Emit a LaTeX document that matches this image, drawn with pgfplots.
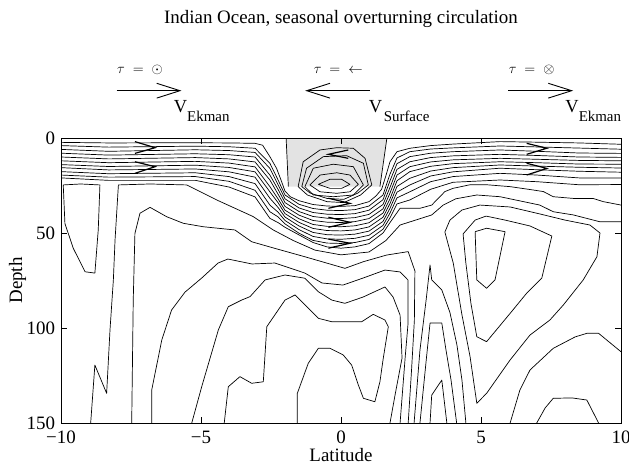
\documentclass[border=0pt]{standalone}
\usepackage{fontspec}
\setmainfont{Liberation Serif}
\usepackage{pgfplots}
\pgfplotsset{compat=1.18}
\tikzset{
  cl/.style={black, line width=0.7pt, line join=round, mark=none},
  arr/.style={black, line width=1.2pt, line join=miter, mark=none}
}
\newcommand{\lab}{\fontsize{19}{21}\selectfont}
\begin{document}
\begin{tikzpicture}
\useasboundingbox (-61bp,-41bp) rectangle (568bp,423bp);
\begin{axis}[
  at={(0,0)}, anchor=south west,
  scale only axis, width=560bp, height=285bp,
  xmin=-10, xmax=10, ymin=0, ymax=150, y dir=reverse,
  xtick={-10,-5,0,5,10}, xticklabels={−10,−5,0,5,10},
  ytick={0,50,100,150}, yticklabels={0,50,100,150},
  tick align=inside, major tick length=6bp,
  ticklabel style={font=\lab},
  xticklabel style={yshift=-4.5bp},
  yticklabel style={xshift=-2.5bp},
  axis line style={line width=0.8pt},
  every tick/.style={black, line width=0.6pt},
  axis on top,
]
% shaded reversed cell at the equator
\addplot[fill=black!11, draw=none] coordinates {(-1.96,0) (1.64,0) (1.39,25.6) (-1.88,25.6)};
\addplot[cl] coordinates {(-1.96,0) (-1.88,25.6)};
\addplot[cl] coordinates {(1.64,0) (1.39,25.6)};

% closed cells inside the shaded region
\addplot[cl] coordinates {(-0.81,24.4) (-0.39,21.7) (0.02,21.7) (0.32,24.4) (0.02,26.5) (-0.39,26.5) (-0.81,24.4)};
\addplot[cl] coordinates {(-1.11,24.7) (-0.75,19.5) (-0.15,18.3) (0.32,19.5) (0.62,24.4) (0.32,28.3) (-0.15,29.1) (-0.75,28.3) (-1.11,24.7)};
\addplot[cl] coordinates {(-1.29,25.6) (-0.99,15.9) (-0.275,13.8) (0.44,15.1) (0.80,24.7) (0.44,30) (-0.275,30.9) (-0.99,30) (-1.29,25.6)};
\addplot[cl] coordinates {(-1.40,25.6) (-1.23,15.9) (-0.63,9.8) (0.2,9.3) (0.80,13.3) (0.975,24.7) (0.6,29) (0.1,32.3) (-0.5,31.8) (-1.1,29) (-1.40,25.6)};
\addplot[cl] coordinates {(-1.53,25.6) (-1.35,12.5) (-0.75,6.3) (-0.15,5.1) (0.44,5.4) (0.86,10.7) (1.10,24.7) (0.7,30) (0.1,34) (-0.5,33.5) (-1.2,30) (-1.53,25.6)};

% upper streamlines crossing the basin
\addplot[cl] coordinates {(-10,2.3) (-8.3,2.6) (-5.2,2.5) (-4,2.6) (-3.07,2.8) (-2.8,3.8) (-2.54,9.8) (-2.3,16) (-2.12,23) (-2,28) (-1.8,31) (-1.5,33) (-1,35) (-0.5,35.8) (0,36) (0.5,35.6) (1,33.5) (1.25,30.5) (1.45,27) (1.6,20) (1.75,12.5) (2,7.2) (2.46,5.4) (3.2,4) (4,3.2) (5.68,1.9) (7,2.2) (8.5,2.6) (10,3.3)};
\addplot[cl] coordinates {(-10,4) (-8.3,4.8) (-5.2,4.3) (-4,4.6) (-3.07,5.4) (-2.54,13.3) (-2.25,22) (-2,30) (-1.5,34.9) (-1,37.1) (-0.5,38) (0,38.2) (0.5,37.7) (1,35.8) (1.5,30) (1.75,19) (2,10.5) (2.46,7.2) (3.2,5.8) (4,5.2) (5.68,4.2) (7,4.7) (8.5,5.3) (10,5.9)};
\addplot[cl] coordinates {(-10,6) (-8.3,7) (-5.2,6.2) (-4,6.6) (-3.07,7.6) (-2.54,16) (-2.25,24.5) (-2,32) (-1.5,36.8) (-1,39.2) (-0.5,40.1) (0,40.3) (0.5,39.8) (1,38) (1.5,32.5) (1.75,22.5) (2,13.5) (2.46,9.8) (3.2,8) (4,7.2) (5.68,6.3) (7,7) (8.5,7.9) (10,8.1)};
\addplot[cl] coordinates {(-10,8) (-8.3,9) (-5.2,8.3) (-4,8.8) (-3.07,10) (-2.54,19.5) (-2.25,27) (-2,34) (-1.5,38.7) (-1,41.3) (-0.5,42.2) (0,42.4) (0.5,41.9) (1,40.2) (1.5,35) (1.75,26) (2,16.5) (2.46,12.5) (3.2,10.3) (4,9.4) (5.68,8.6) (7,9.2) (8.5,10) (10,10.2)};
\addplot[cl] coordinates {(-10,10) (-8.3,11) (-5.2,10.3) (-4,11) (-3.07,12.6) (-2.54,22.1) (-2.25,29.5) (-2,36) (-1.5,40.6) (-1,43.4) (-0.5,44.3) (0,44.5) (0.5,44) (1,42.4) (1.5,37.3) (1.75,29) (2,19.5) (2.46,15.1) (3.2,12.6) (4,11.5) (5.68,10.7) (7,11.2) (8.5,11.8) (10,12)};
\addplot[cl] coordinates {(-10,12) (-8.3,13) (-5.2,12.3) (-4,13.2) (-3.07,15.2) (-2.54,25.6) (-2.25,32) (-2,38) (-1.5,42.5) (-1,45.5) (-0.5,46.5) (0,46.7) (0.5,46.2) (1,44.6) (1.5,39.5) (1.75,32) (2,22.5) (2.46,17.7) (3.2,14.9) (4,13.5) (5.68,12.5) (7,13) (8.5,13.7) (10,13.8)};
\addplot[cl] coordinates {(-10,14) (-8.3,15) (-5.2,14.3) (-4,15.5) (-3.07,17.8) (-2.54,28.3) (-2.25,34) (-2,39.8) (-1.5,44.4) (-1,47.6) (-0.5,48.7) (0,48.9) (0.5,48.4) (1,46.8) (1.5,41.7) (1.75,34.5) (2,25.5) (2.46,21.2) (3.2,17.4) (4,15.6) (5.68,14.2) (7,14.8) (8.5,15.4) (10,15.8)};
\addplot[cl] coordinates {(-10,15.6) (-8.3,16.8) (-5.2,16.3) (-4,17.8) (-3.07,20.6) (-2.54,31.7) (-2.25,36.5) (-2,41.6) (-1.5,46.3) (-1,49.7) (-0.5,50.9) (0,51.1) (0.5,50.6) (1,49) (1.5,43.9) (1.75,37) (2,28.5) (2.46,24.7) (3.2,20) (4,17.8) (5.68,15.9) (7,16.7) (8.5,17.5) (10,18)};
\addplot[cl] coordinates {(-10,17.7) (-8.3,18.8) (-5.2,18.3) (-4,20.3) (-3.07,24) (-2.54,35.3) (-2.25,39) (-2,43.4) (-1.5,48.2) (-1,51.8) (-0.5,53.1) (0,53.3) (0.5,52.8) (1,51.2) (1.5,46) (1.75,39.5) (2,31.5) (2.46,28.3) (3.2,23) (4,20.3) (5.68,18.6) (7,19.5) (8.5,21) (10,21)};
\addplot[cl] coordinates {(-10,19.5) (-8.3,20.6) (-5.2,20.3) (-4,22.8) (-3.07,27.5) (-2.54,38.8) (-2.25,41.5) (-2,45.2) (-1.5,50.1) (-1,53.9) (-0.5,55.3) (0,55.5) (0.5,55) (1,53.4) (1.5,48) (1.75,42) (2,34.7) (2.46,32.6) (3.2,27) (4,23.3) (5.68,22.1) (7,23) (8.5,24.6) (10,24.5)};
\addplot[cl] coordinates {(-10,21) (-8.3,22.3) (-5.2,22.3) (-4,25.8) (-3.07,31) (-2.54,42.3) (-2.25,44.5) (-2,47) (-1.5,51) (-1,55) (-0.5,57.3) (0,58) (0.5,57.3) (1,55.6) (1.5,50) (1.75,44.5) (2.11,37) (2.82,37) (3.24,35.3) (3.71,28.2) (4,26.5) (4.61,24.6) (5.2,24.6) (6.04,25.6) (6.88,27.4) (7.23,28.2) (7.58,30.9) (8.3,31.8) (9,31.8) (9.37,33.5) (10,35.3)};

% streamline rising from the floor in the west
\addplot[cl] coordinates {(-8.94,150) (-8.79,119.5) (-8.37,134.4) (-8.25,101) (-8.13,74.7) (-8.07,53.7) (-7.95,24.7) (-6.82,24.2) (-5.51,24.7) (-4.44,32.6) (-3.13,41.4) (-2.42,48.4) (-1.70,54) (-0.93,59) (0,61.5) (1,60) (1.6,54) (2.11,45.8) (2.6,43.5) (3.24,40.5) (3.65,35.3) (4.1,32) (4.85,30) (5.68,30.9) (7.1,35.3) (7.58,38.8) (8.3,40.5) (9.25,44.1) (10,44.1)};

% deep arches
\addplot[cl] coordinates {(-7.475,150) (-7.42,85.3) (-7.36,50.2) (-7.18,39.6) (-6.82,36.5) (-6.23,41.4) (-5.63,44.9) (-4.92,46.7) (-3.79,48.4) (-3.19,54.6) (-2.36,58.1) (-1.29,62.5) (0.14,68.6) (0.80,65.1) (1.63,61.6) (2.40,59.8) (2.64,70) (2.62,96) (2.52,122) (2.40,150)};
\addplot[cl] coordinates {(-6.76,150) (-6.76,132.6) (-6.40,106.3) (-6.05,90.5) (-5.57,81.1) (-4.975,73.7) (-4.39,65.8) (-4.04,63.7) (-3.18,66.3) (-2.36,65.8) (-1.29,71.1) (-0.68,76.3) (0.07,77.4) (0.79,73.7) (1.57,69.5) (2.11,70.5) (2.39,74.7) (2.39,98.4) (2.29,115.8) (2.11,150)};
\addplot[cl] coordinates {(-5.33,150) (-4.975,130.9) (-4.38,101) (-4.025,88.8) (-3.55,85.3) (-3.25,83.5) (-2.71,74.7) (-2.0,72.1) (-1.29,73.8) (-0.81,80.9) (-0.33,85.3) (0.14,87) (0.79,83.7) (1.57,78.4) (1.86,83.7) (2.11,93.2) (2.18,115.8) (1.93,135.3) (1.75,150)};
\addplot[cl] coordinates {(-4.17,150) (-4.025,130.9) (-3.61,125.6) (-3.19,129.1) (-2.775,128.3) (-2.65,99.3) (-2.0,85.3) (-1.64,82.6) (-0.81,94.9) (-0.33,96.7) (0.14,96.7) (0.74,96.7) (1.15,92.8) (1.57,95.8) (1.69,99.3) (1.51,115.9) (1.39,128.3) (1.21,138.8) (0.80,137) (0.62,130) (0.38,119.5) (0.08,114.2) (-0.39,110.7) (-0.81,110.7) (-1.17,118.6) (-1.56,134.4) (-1.56,150)};

% western cell
\addplot[cl] coordinates {(-9.92,24.7) (-9.3,24.2) (-8.61,24.7) (-8.67,48.4) (-8.79,71.1) (-9.14,70.4) (-9.56,58.1) (-9.86,45) (-9.92,24.7)};

% tongues east of the equator
\addplot[cl] coordinates {(2.61,150) (2.82,111.6) (3.04,85.3) (3.18,66.8) (3.24,74.7) (3.60,80) (3.89,91.8) (4.14,108.9) (4.32,127.4) (4.46,150)};
\addplot[cl] coordinates {(2.82,150) (3.04,117.4) (3.18,97.4) (3.60,97.4) (3.75,111.6) (3.93,127.4) (4.13,150)};
\addplot[cl] coordinates {(3.18,150) (3.24,135.3) (3.60,127.4) (3.78,150)};

% eastern cells
\addplot[cl] coordinates {(3.71,49.5) (3.89,43.2) (4.32,37.9) (4.96,35.3) (6.04,36.3) (7.11,40) (8.0,43.2) (8.89,45.8) (9.25,50) (9.14,62.5) (8.65,74.7) (7.94,87.9) (7.46,95.8) (6.75,103.7) (6.04,116.8) (5.20,134.4) (4.85,139.6) (4.61,115.1) (4.31,92.3) (4.01,65.9) (3.71,49.5)};
\addplot[cl] coordinates {(4.36,50.5) (4.79,43.2) (5.18,41.1) (5.86,43.2) (6.75,46.3) (7.53,51.6) (7.17,73.8) (6.63,81.7) (6.04,92.3) (5.20,107.2) (4.85,104.6) (4.64,87) (4.46,65.9) (4.36,50.5)};
\addplot[cl] coordinates {(4.79,49.3) (5.2,47.5) (5.86,49.3) (5.5,74.7) (5.2,79.1) (4.85,74.7) (4.79,49.3)};
\addplot[cl] coordinates {(6.04,150) (6.39,132.6) (6.75,122.1) (7.58,110.7) (8.36,104.7) (8.78,102.8) (9.2,102.8) (10,112.5)};
\addplot[cl] coordinates {(6.99,150) (7.29,142.1) (7.58,137) (8.25,136.8) (8.78,137.9) (9.2,150)};

% flow direction marks
\addplot[arr] coordinates {(-7.36,1.9) (-6.64,5.1) (-7.36,8.1)};
\addplot[arr] coordinates {(-7.36,12.5) (-6.64,15.1) (-7.36,18.6)};
\addplot[arr] coordinates {(6.63,2.8) (7.35,5.4) (6.63,8.6)};
\addplot[arr] coordinates {(6.63,13.3) (7.35,16) (6.63,19.5)};
\addplot[arr] coordinates {(0.26,6.3) (-0.45,8.6) (0.26,10.7)};
\addplot[arr] coordinates {(-0.45,31.7) (0.32,34.4) (-0.45,37)};
\addplot[arr] coordinates {(-0.45,41.7) (0.32,44.4) (-0.45,47)};
\addplot[arr] coordinates {(-0.45,53.2) (0.32,55.4) (-0.45,58)};
\end{axis}

% labels
\node[anchor=base, font=\lab] at (280bp,399bp) {Indian Ocean, seasonal overturning circulation};
\node[anchor=base, font=\lab] at (280bp,-38bp) {Latitude};
\node[anchor=base, rotate=90, font=\lab] at (-39bp,142.5bp) {Depth};

% wind stress and transport annotations
\begin{scope}[line width=0.9pt]
\node[anchor=base west, inner sep=0pt, font=\fontsize{15}{17}\selectfont] at (55.7bp,349.2bp) {${\tau}\;=\;{\odot}$};
\draw (55.7bp,332.3bp) -- (119bp,332.3bp);
\draw[line join=miter] (95.7bp,339.7bp) -- (119bp,332.3bp) -- (95.7bp,324.9bp);
\node[anchor=base west, inner sep=0pt, font=\fontsize{18.5}{20}\selectfont] at (112.3bp,310bp) {V};
\node[anchor=base west, inner sep=0pt, font=\fontsize{15}{17}\selectfont] at (125.7bp,301.3bp) {Ekman};

\node[anchor=base west, inner sep=0pt, font=\fontsize{15}{17}\selectfont] at (252.3bp,349.2bp) {${\tau}\;=\;{\leftarrow}$};
\draw (245.7bp,332.3bp) -- (309bp,332.3bp);
\draw[line join=miter] (269bp,339.7bp) -- (245.7bp,332.3bp) -- (269bp,324.9bp);
\node[anchor=base west, inner sep=0pt, font=\fontsize{18.5}{20}\selectfont] at (307.3bp,310bp) {V};
\node[anchor=base west, inner sep=0pt, font=\fontsize{15}{17}\selectfont] at (322.3bp,301.3bp) {Surface};

\node[anchor=base west, inner sep=0pt, font=\fontsize{15}{17}\selectfont] at (447.3bp,349.2bp) {${\tau}\;=\;{\otimes}$};
\draw (447.3bp,332.3bp) -- (510.7bp,332.3bp);
\draw[line join=miter] (487.3bp,339.7bp) -- (510.7bp,332.3bp) -- (487.3bp,324.9bp);
\node[anchor=base west, inner sep=0pt, font=\fontsize{18.5}{20}\selectfont] at (504bp,310bp) {V};
\node[anchor=base west, inner sep=0pt, font=\fontsize{15}{17}\selectfont] at (517.3bp,301.3bp) {Ekman};
\end{scope}
\end{tikzpicture}
\end{document}
